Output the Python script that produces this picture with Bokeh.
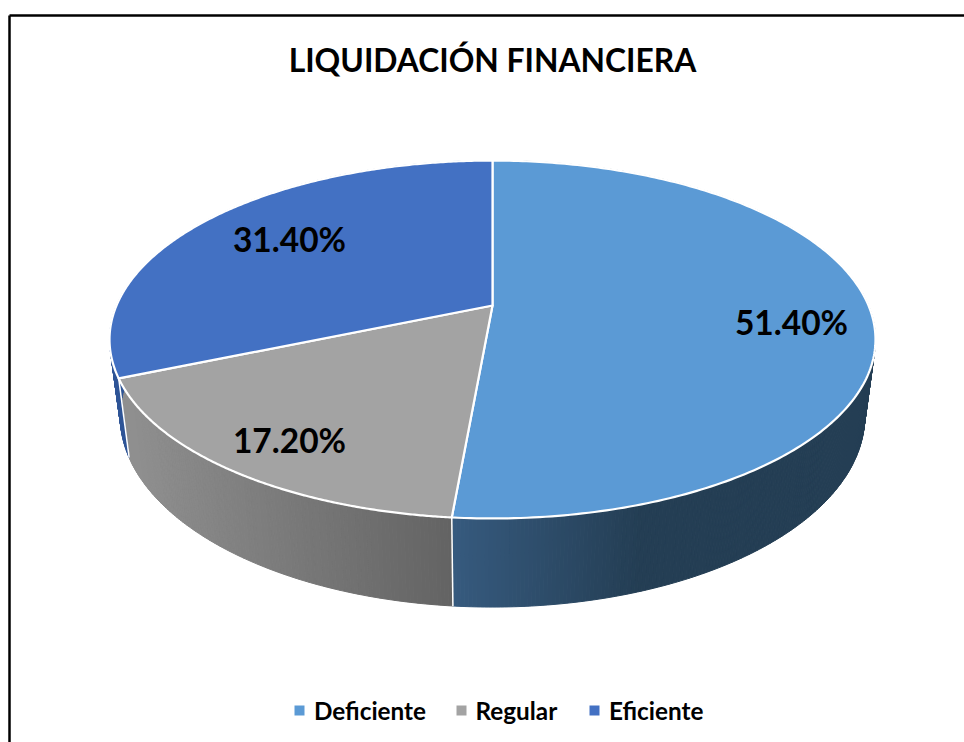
import numpy as np
from bokeh.plotting import figure
from bokeh.models import Range1d
from bokeh.core.properties import value
from bokeh.embed import file_html
from bokeh.resources import INLINE

title = "LIQUIDACIÓN FINANCIERA"
categories = ["Deficiente", "Regular", "Eficiente"]
values = [51.4, 17.2, 31.4]
value_labels = ["51.40%", "17.20%", "31.40%"]
top_colors = ["#5B9AD5", "#A3A3A3", "#4371C3"]
wall_from = [(54, 90, 126), (143, 143, 143), (47, 85, 151)]
wall_to = [(36, 62, 84), (99, 99, 99), (47, 85, 151)]
wall_x_from = [453, 128, 110]
wall_x_to = [640, 452, 128]
label_x = [791, 289, 289]
label_y = [321, 439, 238]
legend_marker_x = [299, 461, 594]
legend_text_x = [313.5, 475, 608.5]
FONT = "Lato"

# Projection of the tilted disc (image pixel coordinates)
CX, K = 492.0, 0.19
RX = 376.0
TOP_Y0, TOP_A = 305.0, 172.5
BOT_Y0, BOT_A, BOT_S = 379.4, 184.0, 0.972


def top_rim(t):
    u, v = np.sin(t), -np.cos(t)
    d = 1 - K * v
    return CX + RX * u / d, TOP_Y0 + TOP_A * v / d


def bottom_rim(t):
    u, v = np.sin(t), -np.cos(t)
    d = 1 - K * v
    return CX + BOT_S * RX * u / d, BOT_Y0 + BOT_A * v / d


def lerp_color(c0, c1, f):
    f = min(max(f, 0.0), 1.0)
    return "#%02x%02x%02x" % tuple(int(round(a + (b - a) * f)) for a, b in zip(c0, c1))


edges = np.concatenate([[0.0], np.cumsum(values)]) / sum(values) * 2 * np.pi

p = figure(width=964, height=742, output_backend="svg", toolbar_location=None,
           x_range=Range1d(0, 964), y_range=Range1d(742, 0),
           min_border=0, outline_line_color=None, background_fill_color="white")
p.xaxis.visible = False
p.yaxis.visible = False
p.grid.visible = False

# Frame
p.multi_line([[9, 9], [9, 964]], [[742, 15], [15, 15]], line_color="#000000", line_width=2.5)

# Side walls, split into thin strips to carry the horizontal gradient
wx, wy, wc = [], [], []
for i in range(len(values)):
    ts = np.arange(edges[i], edges[i + 1], np.radians(0.5))
    ts = np.append(ts, edges[i + 1])
    for a, b in zip(ts[:-1], ts[1:]):
        xa, ya = top_rim(a)
        xb, yb = top_rim(b)
        xc, yc = bottom_rim(b)
        xd, yd = bottom_rim(a)
        wx.append([xa, xb, xc, xd])
        wy.append([ya, yb, yc, yd])
        f = ((xa + xb) / 2 - wall_x_from[i]) / (wall_x_to[i] - wall_x_from[i])
        wc.append(lerp_color(wall_from[i], wall_to[i], f))
p.patches(wx, wy, fill_color=wc, line_color=wc, line_width=1)

# Seams between the walls
sx, sy = [], []
for e in edges[1:]:
    xa, ya = top_rim(e)
    xb, yb = bottom_rim(e)
    sx.append([xa, xb])
    sy.append([ya, yb])
p.multi_line(sx, sy, line_color="#ffffff", line_width=1.5)

# Top slices
tx, ty = [], []
for i in range(len(values)):
    ts = np.linspace(edges[i], edges[i + 1], 240)
    x, y = top_rim(ts)
    tx.append([CX] + list(x))
    ty.append([TOP_Y0] + list(y))
p.patches(tx, ty, fill_color=top_colors, line_color="#ffffff", line_width=2.2, line_join="round")

# Value labels
p.text(label_x, label_y, text=value_labels, text_font=value(FONT), text_font_style="bold",
       text_font_size="33.5px", text_color="#000000", text_align="center", text_baseline="middle")

# Title
p.text([492], [59], text=[title], text_font=value(FONT), text_font_style="bold",
       text_font_size="31.8px", text_color="#000000", text_align="center", text_baseline="middle")

# Legend
p.scatter(legend_marker_x, [710] * 3, marker="square", size=10, fill_color=top_colors, line_color=None)
p.text(legend_text_x, [710] * 3, text=categories, text_font=value(FONT), text_font_style="bold",
       text_font_size="24.3px", text_color="#000000", text_align="left", text_baseline="middle")

open("out.html", "w").write(file_html(p, INLINE))
